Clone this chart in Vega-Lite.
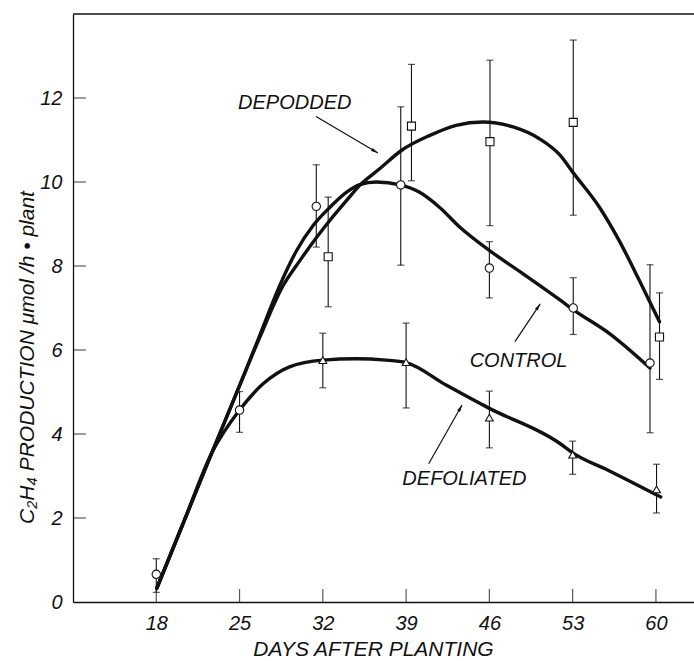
{
  "$schema": "https://vega.github.io/schema/vega-lite/v6.json",
  "width": 621,
  "height": 588,
  "autosize": {"type": "none"},
  "padding": {"left": 73, "top": 14, "right": 0, "bottom": 59},
  "background": "white",
  "config": {
    "view": {"stroke": null},
    "font": "Liberation Sans",
    "axis": {
      "domainColor": "#111",
      "domainWidth": 1.3,
      "tickColor": "#111",
      "tickWidth": 1.2,
      "grid": false,
      "labelColor": "#111",
      "titleColor": "#111",
      "labelFont": "Liberation Sans",
      "titleFont": "Liberation Sans",
      "labelFontStyle": "italic",
      "titleFontStyle": "italic",
      "titleFontWeight": "normal"
    }
  },
  "datasets": {
    "pts": [
      {"series": "Control", "day": 18.0, "mean": 0.66, "lo": 0.23, "hi": 1.03},
      {"series": "Control", "day": 25.0, "mean": 4.57, "lo": 4.04, "hi": 5.01},
      {"series": "Control", "day": 31.45, "mean": 9.42, "lo": 8.45, "hi": 10.41},
      {"series": "Control", "day": 38.55, "mean": 9.93, "lo": 8.02, "hi": 11.79},
      {"series": "Control", "day": 46.0, "mean": 7.95, "lo": 7.24, "hi": 8.58},
      {"series": "Control", "day": 53.05, "mean": 7.0, "lo": 6.37, "hi": 7.72},
      {"series": "Control", "day": 59.5, "mean": 5.69, "lo": 4.03, "hi": 8.03},
      {"series": "Depodded", "day": 32.45, "mean": 8.22, "lo": 7.03, "hi": 9.64},
      {"series": "Depodded", "day": 39.45, "mean": 11.33, "lo": 10.03, "hi": 12.8},
      {"series": "Depodded", "day": 46.05, "mean": 10.96, "lo": 8.96, "hi": 12.9},
      {"series": "Depodded", "day": 53.05, "mean": 11.42, "lo": 9.21, "hi": 13.38},
      {"series": "Depodded", "day": 60.3, "mean": 6.31, "lo": 5.3, "hi": 7.36},
      {"series": "Defoliated", "day": 32.0, "mean": 5.76, "lo": 5.1, "hi": 6.4},
      {"series": "Defoliated", "day": 39.0, "mean": 5.71, "lo": 4.62, "hi": 6.64},
      {"series": "Defoliated", "day": 46.0, "mean": 4.39, "lo": 3.67, "hi": 5.02},
      {"series": "Defoliated", "day": 53.0, "mean": 3.51, "lo": 3.04, "hi": 3.83},
      {"series": "Defoliated", "day": 60.05, "mean": 2.68, "lo": 2.12, "hi": 3.28}
    ],
    "curves": [
      {"series": "Control", "day": 18.05, "val": 0.33},
      {"series": "Control", "day": 20.3, "val": 1.9},
      {"series": "Control", "day": 22.65, "val": 3.54},
      {"series": "Control", "day": 25.0, "val": 5.15},
      {"series": "Control", "day": 26.7, "val": 6.35},
      {"series": "Control", "day": 28.4, "val": 7.55},
      {"series": "Control", "day": 29.8, "val": 8.37},
      {"series": "Control", "day": 31.2, "val": 8.97},
      {"series": "Control", "day": 32.6, "val": 9.4},
      {"series": "Control", "day": 34.0, "val": 9.76},
      {"series": "Control", "day": 35.1, "val": 9.94},
      {"series": "Control", "day": 36.5, "val": 10.0},
      {"series": "Control", "day": 38.5, "val": 9.93},
      {"series": "Control", "day": 40.1, "val": 9.76},
      {"series": "Control", "day": 41.8, "val": 9.4},
      {"series": "Control", "day": 43.5, "val": 8.93},
      {"series": "Control", "day": 46.1, "val": 8.35},
      {"series": "Control", "day": 48.5, "val": 7.88},
      {"series": "Control", "day": 51.9, "val": 7.2},
      {"series": "Control", "day": 53.1, "val": 6.95},
      {"series": "Control", "day": 56.1, "val": 6.39},
      {"series": "Control", "day": 59.5, "val": 5.57},
      {"series": "Depodded", "day": 18.05, "val": 0.33},
      {"series": "Depodded", "day": 20.3, "val": 1.9},
      {"series": "Depodded", "day": 22.65, "val": 3.54},
      {"series": "Depodded", "day": 25.0, "val": 5.15},
      {"series": "Depodded", "day": 26.7, "val": 6.3},
      {"series": "Depodded", "day": 28.6, "val": 7.5},
      {"series": "Depodded", "day": 30.1, "val": 8.14},
      {"series": "Depodded", "day": 31.5, "val": 8.69},
      {"series": "Depodded", "day": 32.6, "val": 9.09},
      {"series": "Depodded", "day": 34.0, "val": 9.56},
      {"series": "Depodded", "day": 35.1, "val": 9.92},
      {"series": "Depodded", "day": 36.8, "val": 10.32},
      {"series": "Depodded", "day": 38.6, "val": 10.75},
      {"series": "Depodded", "day": 41.0, "val": 11.11},
      {"series": "Depodded", "day": 43.2, "val": 11.35},
      {"series": "Depodded", "day": 45.45, "val": 11.43},
      {"series": "Depodded", "day": 48.0, "val": 11.31},
      {"series": "Depodded", "day": 50.2, "val": 11.03},
      {"series": "Depodded", "day": 51.9, "val": 10.65},
      {"series": "Depodded", "day": 53.1, "val": 10.2},
      {"series": "Depodded", "day": 55.25, "val": 9.4},
      {"series": "Depodded", "day": 56.9, "val": 8.61},
      {"series": "Depodded", "day": 58.6, "val": 7.66},
      {"series": "Depodded", "day": 60.3, "val": 6.67},
      {"series": "Defoliated", "day": 18.05, "val": 0.33},
      {"series": "Defoliated", "day": 20.3, "val": 1.9},
      {"series": "Defoliated", "day": 22.65, "val": 3.54},
      {"series": "Defoliated", "day": 25.0, "val": 4.57},
      {"series": "Defoliated", "day": 27.0, "val": 5.2},
      {"series": "Defoliated", "day": 29.2, "val": 5.6},
      {"series": "Defoliated", "day": 32.0, "val": 5.76},
      {"series": "Defoliated", "day": 34.8, "val": 5.79},
      {"series": "Defoliated", "day": 37.3, "val": 5.76},
      {"series": "Defoliated", "day": 39.0, "val": 5.7},
      {"series": "Defoliated", "day": 42.4, "val": 5.16},
      {"series": "Defoliated", "day": 46.0, "val": 4.61},
      {"series": "Defoliated", "day": 51.9, "val": 3.78},
      {"series": "Defoliated", "day": 53.0, "val": 3.55},
      {"series": "Defoliated", "day": 56.1, "val": 3.12},
      {"series": "Defoliated", "day": 60.4, "val": 2.5}
    ],
    "labels": [
      {"text": "DEPODDED", "day": 29.64, "val": 11.89},
      {"text": "CONTROL", "day": 48.45, "val": 5.74},
      {"text": "DEFOLIATED", "day": 43.9, "val": 2.94}
    ],
    "arrows": [
      {"day": 31.43, "val": 11.56, "day2": 36.63, "val2": 10.69, "angle": 120.6},
      {"day": 48.15, "val": 6.2, "day2": 50.27, "val2": 7.1, "angle": 33.6},
      {"day": 40.9, "val": 3.29, "day2": 43.7, "val2": 4.69, "angle": 29.3}
    ],
    "xticks": [{"day": 18}, {"day": 25}, {"day": 32}, {"day": 39}, {"day": 46}, {"day": 53}, {"day": 60}],
    "yticks": [{"val": 2}, {"val": 4}, {"val": 6}, {"val": 8}, {"val": 10}, {"val": 12}],
    "frame": [{"val": 14}]
  },
  "layer": [
    {
      "data": {"name": "curves"},
      "mark": {"type": "line", "interpolate": "monotone", "strokeWidth": 3.4, "color": "#111", "strokeCap": "round"},
      "encoding": {
        "x": {
          "field": "day", "type": "quantitative",
          "scale": {"domain": [11, 63.2], "nice": false, "zero": false},
          "axis": {
            "orient": "bottom",
            "values": [18, 25, 32, 39, 46, 53, 60],
            "ticks": false,
            "labelPadding": 11,
            "labelFontSize": 20,
            "title": "DAYS   AFTER   PLANTING",
            "titleFontSize": 21,
            "titlePadding": 5,
            "titleX": 300
          }
        },
        "y": {
          "field": "val", "type": "quantitative",
          "scale": {"domain": [0, 14], "nice": false},
          "axis": {
            "orient": "left",
            "values": [0, 2, 4, 6, 8, 10, 12],
            "ticks": false,
            "labelPadding": 11,
            "labelFontSize": 20,
            "title": "C₂H₄  PRODUCTION    μmol  /h • plant",
            "titleFontSize": 21,
            "titleAngle": -90,
            "titleX": -46,
            "titleY": 343,
            "titleBaseline": "middle",
            "titleAlign": "center"
          }
        },
        "detail": {"field": "series"}
      }
    },
    {
      "data": {"name": "frame"},
      "mark": {"type": "rule", "color": "#111", "strokeWidth": 1.3},
      "encoding": {"y": {"field": "val", "type": "quantitative"}}
    },
    {
      "data": {"name": "xticks"},
      "mark": {"type": "tick", "orient": "vertical", "color": "#111", "size": 13, "thickness": 1.2, "yOffset": -6.5},
      "encoding": {
        "x": {"field": "day", "type": "quantitative"},
        "y": {"datum": 0, "type": "quantitative"}
      }
    },
    {
      "data": {"name": "yticks"},
      "mark": {"type": "tick", "orient": "horizontal", "color": "#111", "size": 13, "thickness": 1.2, "xOffset": 6.5},
      "encoding": {
        "x": {"datum": 11, "type": "quantitative"},
        "y": {"field": "val", "type": "quantitative"}
      }
    },
    {
      "data": {"name": "pts"},
      "mark": {"type": "rule", "color": "#111", "strokeWidth": 1.1},
      "encoding": {
        "x": {"field": "day", "type": "quantitative"},
        "y": {"field": "lo", "type": "quantitative"},
        "y2": {"field": "hi"}
      }
    },
    {
      "data": {"name": "pts"},
      "mark": {"type": "tick", "orient": "horizontal", "color": "#111", "size": 7, "thickness": 1.2},
      "encoding": {
        "x": {"field": "day", "type": "quantitative"},
        "y": {"field": "lo", "type": "quantitative"}
      }
    },
    {
      "data": {"name": "pts"},
      "mark": {"type": "tick", "orient": "horizontal", "color": "#111", "size": 7, "thickness": 1.2},
      "encoding": {
        "x": {"field": "day", "type": "quantitative"},
        "y": {"field": "hi", "type": "quantitative"}
      }
    },
    {
      "data": {"name": "pts"},
      "mark": {"type": "point", "filled": true, "fill": "white", "stroke": "#111", "strokeWidth": 1.1, "opacity": 1},
      "encoding": {
        "x": {"field": "day", "type": "quantitative"},
        "y": {"field": "mean", "type": "quantitative"},
        "shape": {
          "field": "series", "type": "nominal",
          "scale": {"domain": ["Control", "Depodded", "Defoliated"], "range": ["circle", "square", "triangle-up"]},
          "legend": null
        },
        "size": {
          "field": "series", "type": "nominal",
          "scale": {"domain": ["Control", "Depodded", "Defoliated"], "range": [70, 60, 80]},
          "legend": null
        }
      }
    },
    {
      "data": {"name": "arrows"},
      "mark": {"type": "rule", "color": "#111", "strokeWidth": 1.2},
      "encoding": {
        "x": {"field": "day", "type": "quantitative"},
        "y": {"field": "val", "type": "quantitative"},
        "x2": {"field": "day2"},
        "y2": {"field": "val2"}
      }
    },
    {
      "data": {"name": "arrows"},
      "mark": {"type": "point", "shape": "M0,0 L-0.45,1.8 L0.45,1.8 Z", "filled": true, "color": "#111", "size": 60, "opacity": 1},
      "encoding": {
        "x": {"field": "day2", "type": "quantitative"},
        "y": {"field": "val2", "type": "quantitative"},
        "angle": {"field": "angle", "type": "quantitative", "scale": null}
      }
    },
    {
      "data": {"name": "labels"},
      "mark": {"type": "text", "font": "Liberation Sans", "fontStyle": "italic", "fontSize": 20, "color": "#111", "align": "center", "baseline": "middle"},
      "encoding": {
        "x": {"field": "day", "type": "quantitative"},
        "y": {"field": "val", "type": "quantitative"},
        "text": {"field": "text"}
      }
    }
  ]
}
